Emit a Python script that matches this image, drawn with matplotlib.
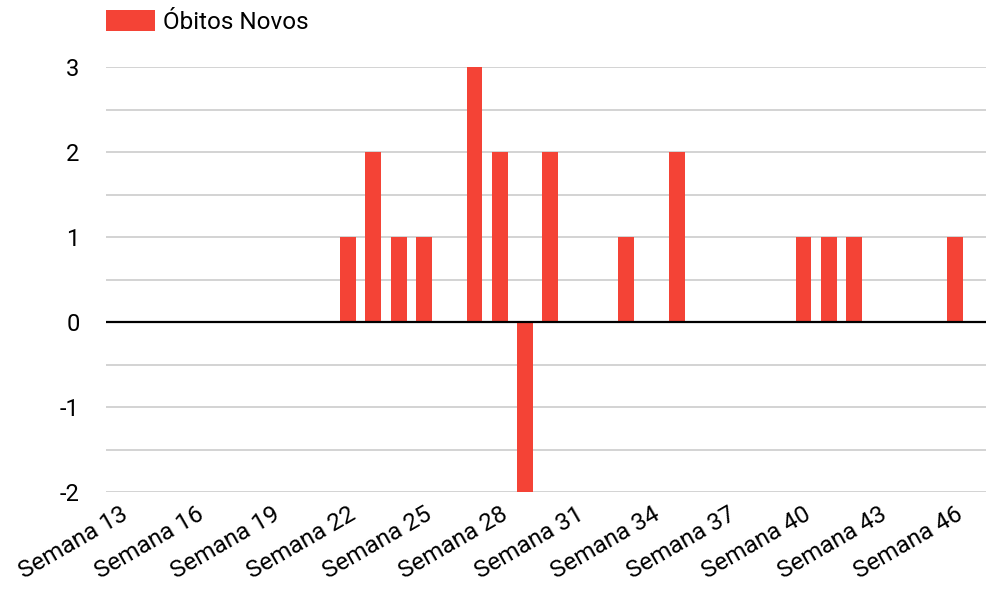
import matplotlib

matplotlib.use("Agg")
import matplotlib.pyplot as plt
import numpy as np

plt.rcParams["font.family"] = ["Roboto", "DejaVu Sans"]

# weekly new deaths, weeks 13..46
weeks = list(range(13, 47))
obitos_novos = [0, 0, 0, 0, 0, 0, 0, 0, 0,
                1, 2, 1, 1, 0, 3, 2, -2, 2, 0, 0, 1, 0, 2,
                0, 0, 0, 0, 1, 1, 1, 0, 0, 0, 1]
tick_weeks = list(range(13, 47, 3))
tick_labels = [f"Semana {w}" for w in tick_weeks]
series_label = "Óbitos Novos"

fig = plt.figure(figsize=(9.87, 5.89), dpi=100)
ax = fig.add_axes([106 / 987, 1 - 492 / 589, 881 / 987, (492 - 67) / 589])

ax.bar(weeks, obitos_novos, width=0.63, color="#f44336", label=series_label, zorder=3)

yticks = np.arange(-2, 3.01, 0.5)
ax.set_ylim(-2, 3)
ax.set_xlim(12.44, 47.25)
ax.set_yticks(yticks)
ax.set_yticklabels([f"{v:g}" if float(v).is_integer() else "" for v in yticks])
ax.grid(axis="y", color="#cccccc", linewidth=1.2, zorder=0)
ax.axhline(0, color="black", linewidth=1.6, zorder=4)

ax.set_xticks(tick_weeks)
ax.set_xticklabels(tick_labels, rotation=30, ha="right", rotation_mode="anchor", fontsize=17.5)
ax.tick_params(axis="x", length=0, pad=8)
ax.tick_params(axis="y", length=0, pad=19, labelsize=17)
for spine in ax.spines.values():
    spine.set_visible(False)

fig.legend(loc="upper left", bbox_to_anchor=(106 / 987, 1 - 10 / 589), frameon=False,
           fontsize=17.5, handlelength=2.0, handleheight=0.95, borderpad=0, borderaxespad=0,
           handletextpad=0.35)

fig.savefig("out.png", dpi=100)
